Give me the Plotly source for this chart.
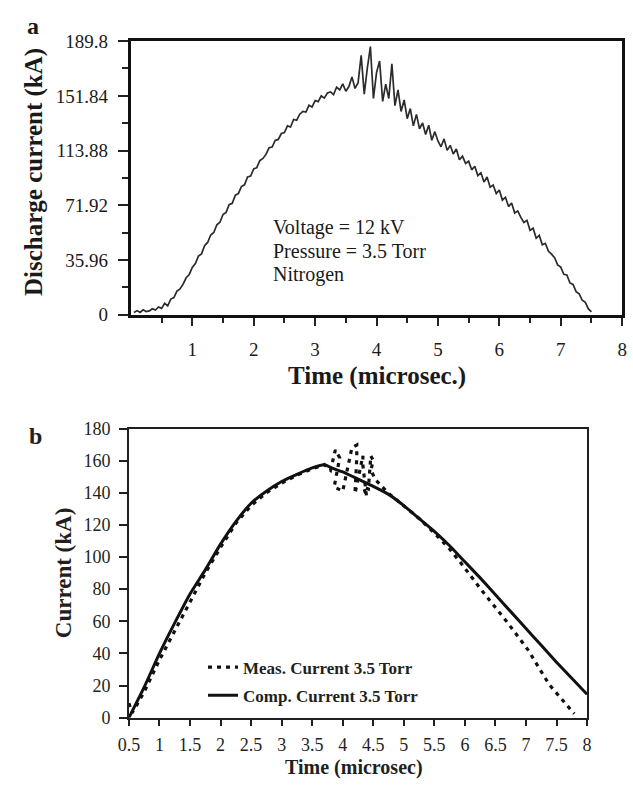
import plotly.graph_objects as go

# ---------------- panel (a): measured discharge current -----------------
t_a = [0.05, 0.10, 0.15, 0.20, 0.25, 0.30, 0.35, 0.40, 0.45, 0.50,
       0.55, 0.60, 0.65, 0.70, 0.75, 0.80, 0.85, 0.90, 0.95, 1.00,
       1.05, 1.10, 1.15, 1.20, 1.25, 1.30, 1.35, 1.40, 1.45, 1.50,
       1.55, 1.60, 1.65, 1.70, 1.75, 1.80, 1.85, 1.90, 1.95, 2.00,
       2.05, 2.10, 2.15, 2.20, 2.25, 2.30, 2.35, 2.40, 2.45, 2.50,
       2.55, 2.60, 2.65, 2.70, 2.75, 2.80, 2.85, 2.90, 2.95, 3.00,
       3.05, 3.10, 3.15, 3.20, 3.25, 3.30, 3.35, 3.40, 3.45, 3.50,
       3.55, 3.60, 3.65, 3.70, 3.75, 3.80, 3.85, 3.90, 3.95, 4.00,
       4.05, 4.10, 4.15, 4.20, 4.25, 4.30, 4.35, 4.40, 4.45, 4.50,
       4.55, 4.60, 4.65, 4.70, 4.75, 4.80, 4.85, 4.90, 4.95, 5.00,
       5.05, 5.10, 5.15, 5.20, 5.25, 5.30, 5.35, 5.40, 5.45, 5.50,
       5.55, 5.60, 5.65, 5.70, 5.75, 5.80, 5.85, 5.90, 5.95, 6.00,
       6.05, 6.10, 6.15, 6.20, 6.25, 6.30, 6.35, 6.40, 6.45, 6.50,
       6.55, 6.60, 6.65, 6.70, 6.75, 6.80, 6.85, 6.90, 6.95, 7.00,
       7.05, 7.10, 7.15, 7.20, 7.25, 7.30, 7.35, 7.40, 7.45, 7.50]
i_a = [1.5, 2.8, 1.6, 3.4, 2.2, 2.6, 4.1, 3.2, 5.3, 4.4,
       7.9, 6.1, 10.8, 11.9, 16.4, 17.8, 21.2, 25.6, 27.9, 32.8,
       35.4, 40.6, 42.2, 47.9, 50.1, 55.3, 57.0, 62.4, 64.1, 69.5,
       71.0, 76.3, 77.2, 82.8, 84.0, 88.9, 90.1, 95.6, 96.2, 101.1,
       102.0, 106.9, 108.4, 111.2, 115.8, 116.3, 120.9, 121.6, 125.7, 126.4,
       131.0, 130.2, 135.4, 134.9, 139.1, 141.0, 140.6, 145.3, 144.1, 148.6,
       147.8, 151.9, 150.3, 153.8, 154.6, 152.7, 157.9, 156.0, 160.2, 155.0,
       158.3, 165.0, 157.0, 161.0, 180.0, 153.0, 171.0, 186.0, 150.0, 168.0,
       176.0, 148.0, 160.0, 150.0, 174.0, 145.0, 156.0, 141.0, 149.0, 136.0,
       143.0, 131.0, 139.0, 129.0, 133.0, 125.0, 131.5, 121.0, 127.0, 120.5,
       116.5, 122.0, 114.0, 117.5, 111.5, 115.0, 107.5, 110.0, 105.0, 106.5,
       100.5, 103.0, 96.5, 98.5, 92.0, 95.5, 88.5, 90.0, 84.0, 86.5,
       79.5, 81.5, 75.0, 77.5, 70.5, 72.0, 67.5, 64.0, 65.5, 58.5,
       60.0, 53.0, 55.0, 48.5, 49.5, 44.0, 42.0, 39.5, 34.5, 33.0,
       28.0, 27.5, 22.0, 21.0, 16.0, 14.5, 10.0, 8.5, 4.0, 2.0]

a_ytickvals = [0, 37.96, 75.92, 113.88, 151.84, 189.8]
a_yticktext = ["0", "35.96", "71.92", "113.88", "151.84", "189.8"]
a_yminor = [18.98, 56.94, 94.90, 132.86, 170.82]
a_xtickvals = [1, 2, 3, 4, 5, 6, 7, 8]
a_xminor = [0.5, 1.5, 2.5, 3.5, 4.5, 5.5, 6.5, 7.5]
a_notes = ["Voltage = 12 kV", "Pressure = 3.5 Torr", "Nitrogen"]

# ---------------- panel (b): measured vs computed current ----------------
t_comp = [0.5, 0.75, 1.0, 1.25, 1.5, 1.75, 2.0, 2.25, 2.5, 2.75, 3.0,
          3.25, 3.5, 3.7, 3.85, 4.0, 4.25, 4.5, 4.75, 5.0, 5.25, 5.5,
          5.75, 6.0, 6.25, 6.5, 6.75, 7.0, 7.25, 7.5, 7.75, 8.0]
i_comp = [0, 19, 40, 59, 77, 92, 108, 122, 133.5, 141, 147,
          151.5, 155.5, 157.5, 155, 153, 148.5, 144, 139, 132, 124, 116,
          107, 97, 87, 76.5, 66, 55.5, 45, 34.5, 24.5, 14.5]

t_meas = [0.5, 0.55, 0.6, 0.75, 1.0, 1.25, 1.5, 1.75, 2.0, 2.25, 2.5,
          2.75, 3.0, 3.25, 3.5, 3.7, 3.8, 3.88, 3.95, 3.86, 4.0, 4.08,
          4.15, 4.23, 4.23, 4.2, 4.33, 4.33, 4.39, 4.34, 4.42, 4.46,
          4.5, 4.46, 4.54, 4.74, 5.0, 5.25, 5.5, 5.75, 5.96, 6.28, 6.68,
          7.03, 7.38, 7.58, 7.79]
i_meas = [9, 3, 6, 16, 36, 54, 73, 90, 106, 121, 132,
          140, 146, 151, 155, 157.5, 154, 166.7, 161.8, 143.6, 141, 155,
          168, 169.7, 161.8, 139.4, 163, 157, 137.6, 143.6, 142.4, 163,
          160, 154, 148, 140, 132, 124, 115, 105, 95, 79, 60,
          42.4, 20.6, 12, 2.4]

b_ytickvals = [0, 20, 40, 60, 80, 100, 120, 140, 160, 180]
b_xtickvals = [0.5, 1, 1.5, 2, 2.5, 3, 3.5, 4, 4.5, 5, 5.5, 6, 6.5, 7, 7.5, 8]
b_xticktext = ["0.5", "1", "1.5", "2", "2.5", "3", "3.5", "4", "4.5", "5",
               "5.5", "6", "6.5", "7", "7.5", "8"]

W, H = 633, 788
SERIF = "Liberation Serif, Times New Roman, serif"


def px(x):
    return x / W


def py(y):
    return 1 - y / H


fig = go.Figure()

fig.add_trace(go.Scatter(
    x=t_a, y=i_a, mode="lines", xaxis="x", yaxis="y",
    line=dict(color="#2b2b2b", width=1.7), showlegend=False,
))

fig.add_trace(go.Scatter(
    x=t_meas, y=i_meas, mode="lines", xaxis="x2", yaxis="y2",
    name="Meas. Current 3.5 Torr", legendgroup="meas",
    line=dict(color="#111111", width=3.2, dash="4px,5px"),
))
fig.add_trace(go.Scatter(
    x=t_comp, y=i_comp, mode="lines", xaxis="x2", yaxis="y2",
    name="Comp. Current 3.5 Torr", legendgroup="comp",
    line=dict(color="#111111", width=3, shape="spline", smoothing=0.5),
))

tick_font_a = dict(family=SERIF, size=19, color="#1a1a1a")
tick_font_b = dict(family=SERIF, size=18, color="#231f20")

fig.update_layout(
    width=W, height=H,
    margin=dict(l=0, r=0, t=0, b=0),
    paper_bgcolor="white", plot_bgcolor="white",
    xaxis=dict(
        domain=[px(123), px(627)], anchor="y", range=[0, 8],
        tickvals=a_xtickvals, ticks="outside", ticklen=8, tickwidth=2,
        tickcolor="#222", tickfont=tick_font_a,
        minor=dict(tickvals=a_xminor, ticks="outside", ticklen=5,
                   tickwidth=2, tickcolor="#222"),
        showline=True, linecolor="#111", linewidth=3, mirror=True,
        showgrid=False, zeroline=False, ticklabelstandoff=8,
    ),
    yaxis=dict(
        domain=[py(313), py(32)], anchor="x", range=[0, 189.8],
        tickvals=a_ytickvals, ticktext=a_yticktext, ticks="outside",
        ticklen=10, tickwidth=2, tickcolor="#222", tickfont=tick_font_a,
        minor=dict(tickvals=a_yminor, ticks="outside", ticklen=6,
                   tickwidth=2, tickcolor="#222"),
        showline=True, linecolor="#111", linewidth=3, mirror=True,
        showgrid=False, zeroline=False, ticklabelstandoff=6,
    ),
    xaxis2=dict(
        domain=[px(121), px(591)], anchor="y2", range=[0.5, 8],
        tickvals=b_xtickvals, ticktext=b_xticktext, ticks="outside",
        ticklen=7, tickwidth=1.5, tickcolor="#231f20", tickfont=tick_font_b,
        showline=True, linecolor="#231f20", linewidth=1.6, mirror=True,
        showgrid=False, zeroline=False, ticklabelstandoff=3,
    ),
    yaxis2=dict(
        domain=[py(727), py(430)], anchor="x2", range=[0, 180],
        tickvals=b_ytickvals, ticks="outside", ticklen=8, tickwidth=1.5,
        tickcolor="#231f20", tickfont=tick_font_b,
        showline=True, linecolor="#231f20", linewidth=1.6, mirror=True,
        showgrid=False, zeroline=False, ticklabelstandoff=5,
    ),
    legend=dict(
        x=px(197), y=py(657), xanchor="left", yanchor="top",
        bgcolor="rgba(0,0,0,0)", borderwidth=0,
        font=dict(family=SERIF, size=17, color="#231f20", weight="bold"),
        traceorder="grouped", tracegroupgap=3, itemwidth=30,
    ),
)

bold_a = dict(family=SERIF, size=25, color="#1a1a1a", weight="bold")
bold_b = dict(family=SERIF, size=20, color="#231f20", weight="bold")
bold_by = dict(family=SERIF, size=23, color="#231f20", weight="bold")
note_font = dict(family=SERIF, size=20, color="#1a1a1a")

annotations = [
    dict(text="a", x=px(23), y=py(16), font=dict(bold_a, size=24)),
    dict(text="b", x=px(25), y=py(438), font=dict(bold_b, size=24)),
    dict(text="Time (microsec.)", x=px(375), y=py(376), font=bold_a),
    dict(text="Discharge current (kA)", x=px(23), y=py(166), font=bold_a,
         textangle=-90),
    dict(text="Time (microsec)", x=px(352), y=py(778), font=bold_b),
    dict(text="Current (kA)", x=px(54), y=py(578), font=bold_by,
         textangle=-90),
]
for note, y in zip(a_notes, [223, 248, 272]):
    annotations.append(dict(text=note, x=px(267), y=py(y), xanchor="left",
                            font=note_font))
for a in annotations:
    a.setdefault("xanchor", "center")
    a.setdefault("yanchor", "middle")
    fig.add_annotation(xref="paper", yref="paper", showarrow=False, **a)

fig.write_html("out.html")
